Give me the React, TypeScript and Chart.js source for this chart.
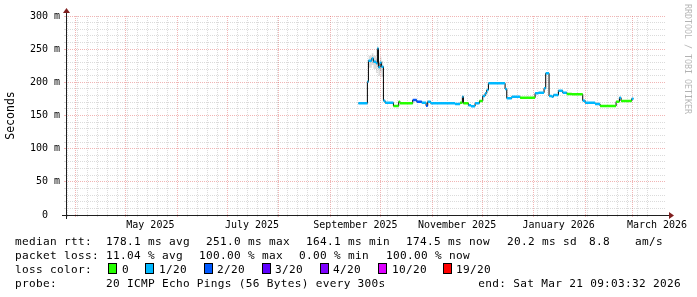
import React, { useEffect, useRef } from "react";
import { Chart, registerables } from "chart.js";

Chart.register(...registerables);

// ---------- data ----------
const END_TIME = "2026-03-21T09:03:32";
const SPAN_DAYS = 360;

// median RTT steps (start of each step, value in ms, loss class index)
const stepStart = [
  "2025-09-17T20:00", "2025-09-23T05:00", "2025-09-23T20:00", "2025-09-25T20:00", "2025-09-26T20:00",
  "2025-09-28T10:00", "2025-09-29T05:00", "2025-09-29T20:00", "2025-09-30T20:00", "2025-10-01T15:00",
  "2025-10-02T20:00", "2025-10-03T20:00", "2025-10-08T20:00", "2025-10-12T00:00", "2025-10-12T20:00",
  "2025-10-20T10:00", "2025-10-22T20:00", "2025-10-25T20:00", "2025-10-28T10:00", "2025-10-29T10:00",
  "2025-10-31T05:00", "2025-11-14T20:00", "2025-11-17T20:00", "2025-11-19T05:00", "2025-11-19T20:00",
  "2025-11-22T20:00", "2025-11-24T10:00", "2025-11-26T20:00", "2025-11-29T10:00", "2025-12-01T10:00",
  "2025-12-02T20:00", "2025-12-03T20:00", "2025-12-04T20:00", "2025-12-14T20:00", "2025-12-15T20:00",
  "2025-12-18T20:00", "2025-12-23T20:00", "2026-01-01T20:00", "2026-01-03T20:00", "2026-01-07T05:00",
  "2026-01-08T05:00", "2026-01-10T05:00", "2026-01-11T20:00", "2026-01-12T20:00", "2026-01-15T20:00",
  "2026-01-18T10:00", "2026-01-20T20:00", "2026-01-23T20:00", "2026-01-30T10:00", "2026-01-31T20:00",
  "2026-02-06T20:00", "2026-02-09T20:00", "2026-02-19T10:00", "2026-02-21T10:00", "2026-02-22T10:00",
  "2026-02-28T20:00",
];
const stepEnd = "2026-03-01T20:00";
const medianMs = [
  168.4, 201, 232.6, 236, 231, 228.6, 251, 222.6, 229.7, 223.6,
  172.4, 169.3, 164.3, 170.9, 168.4, 173.4, 170.9, 169.3, 164.8, 170.9,
  168.4, 167.3, 169.3, 178.4, 168.4, 165.3, 164.1, 168.4, 171.9, 179.4,
  183.4, 188.5, 198.5, 190, 175.9, 178.4, 176.9, 183.4, 184.4, 191,
  213.6, 179.4, 178.4, 180.9, 187.4, 184.4, 182.4, 181.9, 172.4, 169.3,
  167.3, 164.3, 170.9, 176.9, 171.9, 175.4,
];
const lossIdx = [
  1, 1, 1, 1, 1, 1, 1, 1, 1, 1,
  1, 1, 0, 0, 0, 2, 2, 1, 2, 1,
  1, 1, 0, 1, 0, 1, 1, 1, 0, 1,
  1, 1, 1, 1, 1, 1, 0, 1, 1, 1,
  1, 1, 1, 1, 1, 1, 0, 0, 1, 1,
  1, 0, 0, 1, 0, 1,
];

// smoke (ping spread) around the late-September peak
const smokeStart = [
  "2025-09-23T20:00", "2025-09-25T20:00", "2025-09-26T20:00", "2025-09-28T10:00",
  "2025-09-29T05:00", "2025-09-29T20:00", "2025-09-30T20:00", "2025-10-01T15:00",
];
const smokeEnd = "2025-10-02T20:00";
const smokeHigh = [240, 244, 240, 236, 254, 232, 238, 232];
const smokeLow = [222, 226, 220, 214, 224, 210, 216, 208];

// axes
const yTickValues = [
  0, 10, 20, 30, 40, 50, 60, 70, 80, 90, 100, 110, 120, 130, 140, 150,
  160, 170, 180, 190, 200, 210, 220, 230, 240, 250, 260, 270, 280, 290, 300,
];
const yMajorStep = 50;
const xLabelDates = ["2025-05-16", "2025-07-16", "2025-09-16", "2025-11-16", "2026-01-16", "2026-03-16"];
const xLabelTexts = ["May 2025", "July 2025", "September 2025", "November 2025", "January 2026", "March 2026"];
const monthStarts = [
  "2025-04-01", "2025-05-01", "2025-06-01", "2025-07-01", "2025-08-01", "2025-09-01",
  "2025-10-01", "2025-11-01", "2025-12-01", "2026-01-01", "2026-02-01", "2026-03-01",
];
const minorGridStart = "2025-03-27";
const minorGridDays = 6;

// legend
const lossLabels = ["0", "1/20", "2/20", "3/20", "4/20", "10/20", "19/20"];
const lossColors = ["#26ff00", "#00b8ff", "#0059ff", "#5e00ff", "#7e00ff", "#dd00ff", "#ff0000"];
const rttStats = ["178.1", "251.0", "164.1", "174.5", "20.2"];
const rttStatNames = ["avg", "max", "min", "now", "sd"];
const amS = "8.8";
const lossStats = ["11.04", "100.00", "0.00", "100.00"];
const lossStatNames = ["avg", "max", "min", "now"];
const probeText = "20 ICMP Echo Pings (56 Bytes) every 300s";
const endText = "end: Sat Mar 21 09:03:32 2026";

// ---------- helpers ----------
const DAY = 86400000;
const tms = (s: string) => Date.parse(s.length === 10 ? s + "T00:00:00Z" : s.length === 16 ? s + ":00Z" : s + "Z");
const END_MS = tms(END_TIME);
const START_MS = END_MS - SPAN_DAYS * DAY;

const MONO = "'DejaVu Sans Mono', monospace";

export default function App() {
  const ref = useRef<HTMLCanvasElement | null>(null);

  useEffect(() => {
    const canvas = ref.current;
    if (!canvas) return;

    // x ticks: minor grid, month grid, labels
    const kind = new Map<number, string>();
    const xLabelMap = new Map<number, string>();
    for (let t = tms(minorGridStart); t < END_MS; t += minorGridDays * DAY) {
      if (t > START_MS) kind.set(t, "minor");
    }
    monthStarts.forEach((m) => kind.set(tms(m), "major"));
    xLabelDates.forEach((d, i) => {
      kind.set(tms(d), "label");
      xLabelMap.set(tms(d), xLabelTexts[i]);
    });
    const xTicks = Array.from(kind.keys()).sort((a, b) => a - b);

    const starts = stepStart.map(tms);
    const ends = starts.slice(1).concat([tms(stepEnd)]);

    const medianLine = starts.map((x, i) => ({ x, y: medianMs[i] }));
    medianLine.push({ x: tms(stepEnd), y: medianMs[medianMs.length - 1] });

    const classSets = lossColors.map((color, c) => {
      const pts: { x: number; y: number | null }[] = [];
      starts.forEach((x, i) => {
        if (lossIdx[i] !== c) return;
        pts.push({ x, y: medianMs[i] });
        pts.push({ x: ends[i], y: medianMs[i] });
        pts.push({ x: ends[i], y: null });
      });
      return {
        label: lossLabels[c],
        data: pts,
        borderColor: color,
        borderWidth: 2.5,
        pointRadius: 0,
        spanGaps: false,
        fill: false,
        order: 1,
        borderCapStyle: "butt" as const,
      };
    });

    const sStarts = smokeStart.map(tms);
    const hi = sStarts.map((x, i) => ({ x, y: smokeHigh[i] }));
    hi.push({ x: tms(smokeEnd), y: smokeHigh[smokeHigh.length - 1] });
    const lo = sStarts.map((x, i) => ({ x, y: smokeLow[i] }));
    lo.push({ x: tms(smokeEnd), y: smokeLow[smokeLow.length - 1] });

    const decor = {
      id: "decor",
      afterDraw(chart: any) {
        const ctx: CanvasRenderingContext2D = chart.ctx;
        const a = chart.chartArea;
        const X0 = a.left, X1 = a.right, Y0 = a.bottom, Y1 = a.top;
        ctx.save();
        // axes
        ctx.strokeStyle = "#1f1f1f";
        ctx.lineWidth = 1;
        ctx.setLineDash([]);
        ctx.beginPath();
        ctx.moveTo(X0 - 4, Y0 + 0.5);
        ctx.lineTo(X1 + 4, Y0 + 0.5);
        ctx.moveTo(X0 + 0.5, Y0 + 4);
        ctx.lineTo(X0 + 0.5, Y1 - 4);
        ctx.stroke();
        ctx.fillStyle = "#801f1f";
        ctx.beginPath();
        ctx.moveTo(X1 + 3, Y0 - 3);
        ctx.lineTo(X1 + 3, Y0 + 4);
        ctx.lineTo(X1 + 8, Y0 + 0.5);
        ctx.closePath();
        ctx.fill();
        ctx.beginPath();
        ctx.moveTo(X0 - 3, Y1 - 3);
        ctx.lineTo(X0 + 4, Y1 - 3);
        ctx.lineTo(X0 + 0.5, Y1 - 8);
        ctx.closePath();
        ctx.fill();

        // watermark
        ctx.save();
        ctx.translate(687.5, 4);
        ctx.rotate(Math.PI / 2);
        ctx.font = "8.3px " + MONO;
        ctx.fillStyle = "rgba(0,0,0,0.3)";
        ctx.textBaseline = "middle";
        ctx.textAlign = "left";
        ctx.fillText("RRDTOOL / TOBI OETIKER", 0, 0);
        ctx.restore();

        // legend
        ctx.font = "11.1px " + MONO;
        (ctx as any).letterSpacing = "0.31px";
        ctx.fillStyle = "#000";
        ctx.textBaseline = "alphabetic";
        ctx.textAlign = "left";
        const r1 = 245, r2 = 259, r3 = 273, r4 = 287;
        ctx.fillText("median rtt:", 15, r1);
        const rx = [106, 206, 306, 406, 507];
        rttStats.forEach((v, i) => ctx.fillText(`${v} ms ${rttStatNames[i]}`, rx[i], r1));
        ctx.fillText(amS, 589, r1);
        ctx.fillText("am/s", 635, r1);

        ctx.fillText("packet loss:", 15, r2);
        const lx = [106, 199, 299, 386];
        lossStats.forEach((v, i) => ctx.fillText(`${v} % ${lossStatNames[i]}`, lx[i], r2));

        ctx.fillText("loss color:", 15, r3);
        const bx = [108, 145, 204, 262, 320, 378, 443];
        const tx = [122, 159, 217, 275, 333, 392, 456];
        lossLabels.forEach((l, i) => {
          ctx.fillStyle = lossColors[i];
          ctx.fillRect(bx[i], 264, 8, 9);
          ctx.strokeStyle = "#000";
          ctx.lineWidth = 1;
          ctx.strokeRect(bx[i] + 0.5, 263.5, 8, 10);
          ctx.fillStyle = "#000";
          ctx.fillText(l, tx[i], r3);
        });

        ctx.fillText("probe:", 15, r4);
        ctx.fillText(probeText, 106, r4);
        ctx.textAlign = "right";
        ctx.fillText(endText, 681, r4);
        ctx.restore();
      },
    };

    const gridColor = (major: boolean) => (major ? "rgba(222,79,79,0.42)" : "rgba(143,143,143,0.32)");

    const chart = new Chart(canvas, {
      type: "line",
      data: {
        datasets: [
          {
            label: "smokeHigh",
            data: hi,
            stepped: true,
            borderWidth: 0,
            borderColor: "rgba(0,0,0,0)",
            backgroundColor: "rgba(0,0,0,0.14)",
            fill: "+1",
            pointRadius: 0,
            order: 5,
          },
          {
            label: "smokeLow",
            data: lo,
            stepped: true,
            borderWidth: 0,
            borderColor: "rgba(0,0,0,0)",
            fill: false,
            pointRadius: 0,
            order: 5,
          },
          {
            label: "median",
            data: medianLine,
            stepped: true,
            borderColor: "#000000",
            borderWidth: 1,
            pointRadius: 0,
            fill: false,
            order: 3,
          },
          ...classSets,
        ] as any,
      },
      options: {
        animation: false,
        responsive: false,
        devicePixelRatio: 1,
        events: [],
        parsing: false as any,
        normalized: true,
        layout: { padding: { top: 16, right: 31, left: 0, bottom: 0 } },
        plugins: {
          legend: { display: false },
          tooltip: { enabled: false },
          title: { display: false },
        },
        elements: { point: { radius: 0 }, line: { tension: 0 } },
        scales: {
          x: {
            type: "linear",
            min: START_MS,
            max: END_MS,
            afterFit: (s: any) => {
              s.height = 82;
            },
            afterBuildTicks: (s: any) => {
              s.ticks = xTicks.map((v) => ({ value: v }));
            },
            ticks: {
              autoSkip: false,
              maxRotation: 0,
              minRotation: 0,
              padding: 2,
              font: { family: MONO, size: 10 },
              color: "#000",
              callback: (v: any) => xLabelMap.get(Number(v)) ?? "",
            },
            grid: {
              color: (c: any) => {
                const k = kind.get(c.tick?.value);
                return k === "label" ? "rgba(0,0,0,0)" : gridColor(k === "major");
              },
              tickColor: (c: any) => {
                const k = kind.get(c.tick?.value);
                return k === "label" ? "rgba(0,0,0,0)" : gridColor(k === "major");
              },
              tickLength: 2,
              lineWidth: 1,
            },
            border: { display: false, dash: [1, 1] },
          },
          y: {
            type: "linear",
            min: 0,
            max: 300,
            afterFit: (s: any) => {
              s.width = 66;
            },
            afterBuildTicks: (s: any) => {
              s.ticks = yTickValues.map((v) => ({ value: v }));
            },
            ticks: {
              autoSkip: false,
              padding: 4,
              font: { family: MONO, size: 10 },
              color: "#000",
              callback: (v: any) => {
                const n = Number(v);
                if (n % yMajorStep !== 0) return "";
                return n === 0 ? "0  " : `${n} m`;
              },
            },
            grid: {
              color: (c: any) => gridColor(c.tick?.value % yMajorStep === 0),
              tickColor: (c: any) => gridColor(c.tick?.value % yMajorStep === 0),
              tickLength: 2,
              lineWidth: 1,
            },
            border: { display: false, dash: [1, 1] },
            title: {
              display: true,
              text: "Seconds",
              color: "#000",
              font: { family: MONO, size: 11.5 },
              padding: { top: 4, bottom: 0 },
            },
          },
        },
      },
      plugins: [decor],
    });

    return () => chart.destroy();
  }, []);

  return (
    <div style={{ position: "fixed", left: 0, top: 0, width: 697, height: 297, background: "#ffffff" }}>
      <canvas ref={ref} width={697} height={297} style={{ width: 697, height: 297, display: "block" }} />
    </div>
  );
}
